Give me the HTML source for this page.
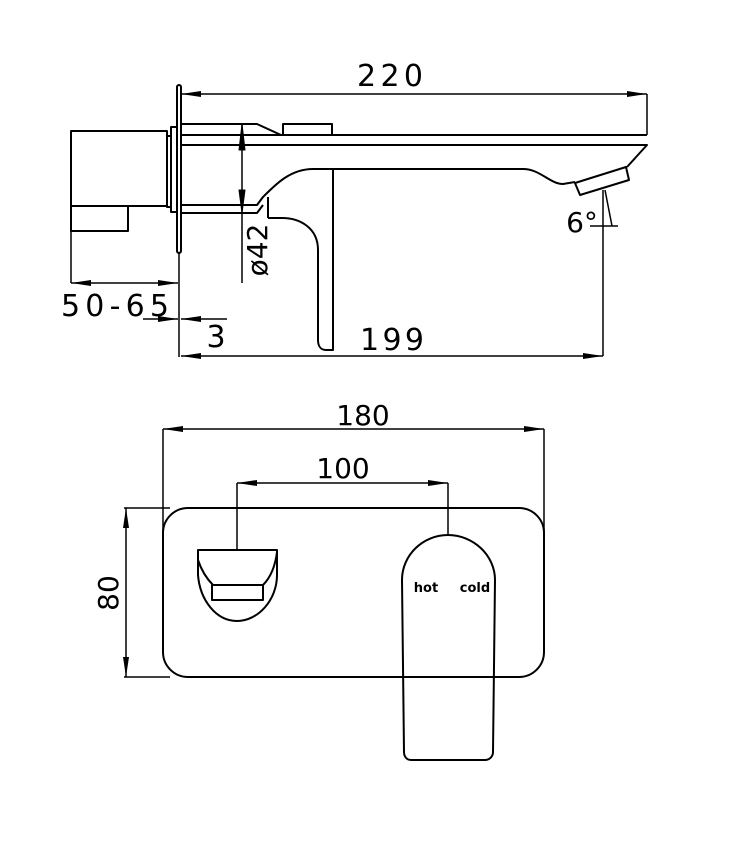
<!DOCTYPE html>
<html><head><style>
html,body{margin:0;padding:0;background:#fff;}
svg{display:block;}
text{font-family:"DejaVu Sans","Liberation Sans",sans-serif;fill:#000;}
</style></head><body>
<svg width="734" height="845" viewBox="0 0 734 845" xmlns="http://www.w3.org/2000/svg">
<defs>
<marker id="b" viewBox="0 0 20 6" refX="20" refY="3" markerWidth="20" markerHeight="6" markerUnits="userSpaceOnUse" orient="auto-start-reverse"><path d="M0,0 L20,3 L0,6z" fill="#000"/></marker>
</defs>
<g fill="none" stroke="#000" stroke-width="2" stroke-linejoin="round">
<rect x="71" y="131" width="96" height="75"/>
<rect x="71" y="206" width="57" height="25"/>
<rect x="167" y="136" width="4" height="71"/>
<rect x="171" y="127" width="6" height="85"/>
<rect x="177" y="85" width="4" height="168" rx="2"/>
<line x1="179" y1="253" x2="179" y2="357" stroke-width="1.5"/>
<path d="M181,124 H257 L281,135"/>
<path d="M283,135 V124 H332 V135"/>
<line x1="181" y1="135" x2="647" y2="135"/>
<path d="M181,145 H647 L627,167"/>
<path d="M313,169 H523 C540,169 550,184 563,184 L575,182"/>
<path d="M575,183 L626,167 L629,180 L580,195 Z"/>
<path d="M313,169 C290,169 275,185 263,197 L257,205 H181"/>
<path d="M181,213 H257 L263,205"/>
<path d="M268,197 V218"/>
<path d="M333,169 V350 H326 C320,350 318,345 318,340 V250 C318,228 300,218 282,218 H268"/>
<line x1="181" y1="94" x2="647" y2="94" stroke-width="1.5" marker-start="url(#b)" marker-end="url(#b)"/>
<line x1="647" y1="94" x2="647" y2="135" stroke-width="1.5"/>
<line x1="242" y1="124" x2="242" y2="283" stroke-width="1.5"/>
<path d="M239,150 L242,124 L245,150 Z M239,190 L242,213 L245,190 Z" fill="#000" stroke-width="1"/>
<line x1="71" y1="231" x2="71" y2="283" stroke-width="1.5"/>
<line x1="71" y1="283" x2="178" y2="283" stroke-width="1.5" marker-start="url(#b)" marker-end="url(#b)"/>
<line x1="143" y1="319" x2="178" y2="319" stroke-width="1.5" marker-end="url(#b)"/>
<line x1="227" y1="319" x2="181" y2="319" stroke-width="1.5" marker-end="url(#b)"/>
<line x1="181" y1="356" x2="603" y2="356" stroke-width="1.5" marker-start="url(#b)" marker-end="url(#b)"/>
<line x1="603" y1="356" x2="603" y2="190" stroke-width="1.5"/>
<line x1="605" y1="190" x2="612" y2="226" stroke-width="1.5"/>
<line x1="590" y1="226" x2="618" y2="226" stroke-width="1.5"/>
<rect x="163" y="508" width="381" height="169" rx="25"/>
<line x1="163" y1="429" x2="544" y2="429" stroke-width="1.5" marker-start="url(#b)" marker-end="url(#b)"/>
<line x1="163" y1="429" x2="163" y2="535" stroke-width="1.5"/>
<line x1="544" y1="429" x2="544" y2="535" stroke-width="1.5"/>
<line x1="237" y1="483" x2="448" y2="483" stroke-width="1.5" marker-start="url(#b)" marker-end="url(#b)"/>
<line x1="237" y1="483" x2="237" y2="550" stroke-width="1.5"/>
<line x1="448" y1="483" x2="448" y2="535" stroke-width="1.5"/>
<line x1="126" y1="508" x2="126" y2="677" stroke-width="1.5" marker-start="url(#b)" marker-end="url(#b)"/>
<line x1="124" y1="508" x2="170" y2="508" stroke-width="1.5"/>
<line x1="124" y1="677" x2="170" y2="677" stroke-width="1.5"/>
<path d="M198,550 H277 V575 C277,600 258,621 237,621 C216,621 200,600 198,575 Z"/>
<path d="M198,560 C202,572 208,580 213,585 M277,552 C275,568 270,578 263,585"/>
<rect x="212" y="585" width="51" height="15"/>
<path d="M402,580 C402,555 423,535 448,535 C473,535 495,555 495,580 L493,752 C493,757 489,760 485,760 H411 C407,760 404,757 404,752 Z"/>
</g>
<g>
<text x="390" y="86" font-size="30" text-anchor="middle" textLength="66">220</text>
<text x="115" y="316" font-size="30" text-anchor="middle" textLength="108">50-65</text>
<text x="216" y="347" font-size="30" text-anchor="middle">3</text>
<text x="392" y="350" font-size="30" text-anchor="middle" textLength="64">199</text>
<text x="582" y="232" font-size="28" text-anchor="middle">6°</text>
<text transform="translate(267,250) rotate(-90)" font-size="28" text-anchor="middle">ø42</text>
<text x="363" y="425" font-size="28" text-anchor="middle">180</text>
<text x="343" y="478" font-size="28" text-anchor="middle">100</text>
<text transform="translate(118,593) rotate(-90)" font-size="28" text-anchor="middle">80</text>
<text x="426" y="592" font-size="13" font-weight="bold" text-anchor="middle">hot</text>
<text x="475" y="592" font-size="13" font-weight="bold" text-anchor="middle">cold</text>
</g>
</svg>
</body></html>
